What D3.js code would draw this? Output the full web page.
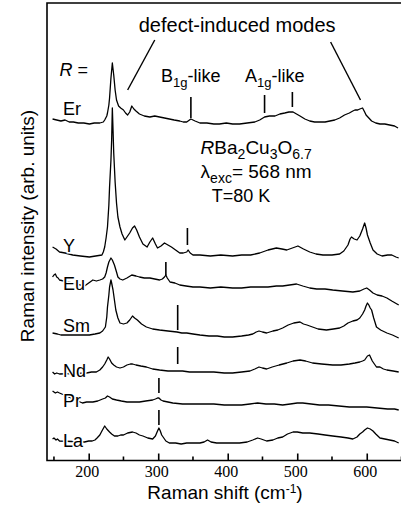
<!DOCTYPE html>
<html>
<head>
<meta charset="utf-8">
<script src="https://cdn.jsdelivr.net/npm/d3@7"></script>
<style>
  body { margin: 0; background: #fff; }
  svg { display: block; font-family: "Liberation Sans", Arial, sans-serif; }
</style>
</head>
<body>
<div id="chart"></div>
<script>
// spectra: [Raman shift (cm-1), intensity (arb. units, offset included)]
var erSpec = [[148,341],[154,340],[160,339],[166,340],[172,338],[178,338],[185,337],[193,337],[201,336],[208,337],[216,337],[221,338],[223,340],[226,344],[227,347],[229,355],[230,362],[232,382],[234,397],[236,385],[238,370],[240,360],[243,354],[246,352],[250,350],[253,347],[256,345],[259,348],[262,354],[265,351],[268,349],[273,346],[280,344],[288,343],[295,344],[302,343],[309,342],[316,341],[323,340],[331,339],[336,338],[341,338],[345,340],[347,341],[350,340],[353,339],[360,337],[370,337],[380,336],[388,336],[398,337],[407,336],[417,336],[428,337],[439,338],[446,340],[453,343],[460,344],[468,344],[475,346],[482,347],[488,348],[494,348],[499,346],[504,344],[511,341],[518,339],[525,338],[532,338],[540,338],[547,339],[554,340],[561,342],[568,345],[575,347],[580,349],[583,350],[587,350],[590,351],[594,352],[597,348],[599,345],[603,342],[607,339],[613,337],[619,336],[626,336],[633,335],[640,334],[645,332]];
var ySpec = [[148,213],[153,211],[158,208],[166,207],[177,205],[188,204],[201,203],[210,204],[219,205],[221,208],[223,213],[225,222],[227,233],[229,255],[230,273],[232,300],[233,320],[234,352],[235,330],[236,307],[238,278],[240,257],[242,243],[245,233],[248,226],[252,220],[255,223],[259,227],[263,232],[266,234],[269,230],[273,223],[278,216],[284,213],[288,218],[292,222],[296,216],[299,212],[304,214],[309,217],[314,215],[319,213],[325,210],[331,207],[336,207],[341,208],[343,210],[346,207],[350,205],[360,205],[375,204],[390,205],[407,204],[420,205],[433,205],[446,207],[458,210],[470,212],[478,211],[485,210],[493,212],[501,214],[509,211],[518,208],[527,206],[537,205],[550,205],[561,206],[567,209],[573,215],[576,221],[578,223],[582,221],[586,220],[590,224],[594,231],[597,237],[599,232],[601,225],[605,217],[609,210],[615,206],[622,204],[630,205],[636,205],[642,203],[646,202]];
var euSpec = [[148,183],[150,185],[152,186],[154,183],[156,182],[158,180],[194,174],[200,177],[206,180],[211,179],[216,180],[220,181],[223,183],[225,187],[227,193],[229,198],[232,202],[234,200],[237,195],[240,188],[242,183],[245,181],[249,180],[255,182],[262,185],[268,184],[273,183],[280,182],[288,182],[295,181],[302,180],[306,181],[309,183],[311,185],[313,182],[317,178],[324,177],[331,175],[340,174],[350,173],[360,173],[375,172],[390,173],[407,172],[420,172],[433,173],[446,173],[458,173],[470,174],[479,174],[489,175],[499,176],[508,174],[518,172],[528,171],[540,171],[551,170],[565,169],[580,168],[590,169],[596,171],[600,172],[604,170],[609,167],[615,165],[622,164],[629,162],[636,159],[641,157],[646,155]];
var smSpec = [[148,127],[155,126],[160,125],[168,125],[180,125],[190,125],[201,125],[209,126],[216,127],[220,129],[224,133],[226,143],[227,153],[229,165],[230,173],[232,180],[233,177],[235,170],[237,160],[239,150],[242,142],[245,137],[250,136],[255,137],[259,140],[263,144],[266,142],[270,140],[276,136],[283,133],[292,131],[302,130],[314,129],[327,128],[334,127],[341,127],[350,126],[360,125],[373,124],[385,124],[395,123],[407,123],[420,124],[430,125],[436,126],[441,128],[445,129],[450,128],[456,127],[465,129],[472,130],[479,132],[487,135],[495,137],[504,138],[509,136],[514,135],[522,133],[530,131],[542,130],[552,131],[561,132],[567,134],[573,137],[580,139],[586,140],[590,142],[594,146],[597,150],[599,154],[601,157],[603,155],[605,152],[607,150],[610,142],[614,133],[620,130],[629,127],[637,125],[646,122]];
var ndSpec = [[148,88],[151,86],[154,87],[158,86],[197,87],[204,88],[211,88],[216,90],[220,93],[223,96],[226,100],[228,103],[230,101],[233,97],[236,95],[240,93],[245,92],[250,93],[255,95],[260,96],[263,96],[268,95],[275,94],[283,93],[292,91],[302,90],[314,89],[327,89],[335,89],[345,88],[360,88],[380,88],[395,87],[407,87],[420,88],[432,89],[439,91],[445,93],[450,92],[456,91],[464,93],[474,95],[485,97],[494,99],[504,100],[512,99],[522,97],[535,96],[551,95],[563,95],[575,96],[583,97],[590,98],[594,99],[597,100],[601,104],[604,105],[606,102],[608,99],[611,96],[614,93],[619,93],[624,91],[629,90],[638,89],[646,88]];
var prSpec = [[148,69],[150,68],[152,67],[155,68],[158,67],[191,57],[197,58],[206,58],[213,59],[220,61],[224,62],[227,64],[230,63],[234,61],[240,60],[247,59],[255,58],[264,58],[273,58],[282,59],[292,60],[296,61],[299,62],[301,62],[304,60],[307,59],[314,58],[321,57],[335,56],[348,56],[360,56],[380,56],[395,55],[407,55],[420,55],[432,56],[443,57],[455,56],[467,56],[479,55],[490,56],[500,57],[508,57],[520,56],[532,55],[545,55],[560,54],[575,53],[588,53],[600,53],[615,52],[630,51],[640,51],[646,50]];
var laSpec = [[148,21],[150,22],[153,20],[155,21],[158,19],[194,18],[200,19],[205,19],[209,20],[212,22],[216,25],[219,29],[223,34],[226,31],[230,28],[233,26],[237,24],[242,24],[246,25],[250,25],[256,27],[263,28],[268,27],[273,25],[278,24],[285,22],[292,21],[296,24],[299,29],[301,32],[303,29],[305,25],[307,23],[311,19],[316,17],[325,17],[333,16],[341,17],[350,17],[360,17],[366,18],[371,20],[376,18],[384,17],[395,17],[407,17],[417,17],[428,18],[436,20],[443,22],[448,21],[456,19],[465,20],[472,22],[479,23],[486,26],[494,28],[500,28],[508,27],[518,27],[530,26],[540,25],[551,24],[563,23],[573,22],[580,21],[586,23],[590,26],[594,28],[597,30],[601,32],[605,31],[609,29],[613,26],[619,22],[626,21],[633,20],[640,19],[646,17]];

var spectra = [erSpec, ySpec, euSpec, smSpec, ndSpec, prSpec, laSpec];
var sampleNames = ["Er", "Y", "Eu", "Sm", "Nd", "Pr", "La"];
var labelPos = [[163,345],[163,208],[163,170],[163,128],[163,83],[163,53],[163,13]];

// short vertical markers: [shift, bottom, top]
var markers = [[347,342,363],[453,347,365],[493,353,368],[342,215,232],[311,185,198],[328,130,155],[328,96,113],[301,67,82],[301,35,50]];

// "defect-induced modes" pointer lines: [x1, y1, x2, y2]
var pointers = [[295,420,256,370],[548,418,591,360]];

var xTicks = [200, 300, 400, 500, 600];
var xMinor = [150, 250, 350, 450, 550, 650];

var W = 401, H = 518;
var margin = {top: 3, right: 0, bottom: 58, left: 47};

var svg = d3.select("#chart")
  .append("svg")
  .attr("width", W)
  .attr("height", H);

var x = d3.scaleLinear()
  .domain([140, 650])
  .range([margin.left, W + 0.5]);

var y = d3.scaleLinear()
  .domain([0, 457])
  .range([H - margin.bottom, margin.top]);

var line = d3.line()
  .x(function(d) { return x(d[0]); })
  .y(function(d) { return y(d[1]); });

// spectra
svg.selectAll(".spec")
  .data(spectra)
  .enter()
  .append("path")
  .attr("class", "spec")
  .attr("d", line)
  .attr("fill", "none")
  .attr("stroke", "#000")
  .attr("stroke-width", 1.3)
  .attr("stroke-linejoin", "round");

// sample labels with white halo so the trace stops at them
svg.selectAll(".lab")
  .data(sampleNames)
  .enter()
  .append("text")
  .attr("class", "lab")
  .attr("x", function(d, i) { return x(labelPos[i][0]); })
  .attr("y", function(d, i) { return y(labelPos[i][1]); })
  .attr("font-size", "18px")
  .attr("stroke", "#fff")
  .attr("stroke-width", 3)
  .attr("paint-order", "stroke")
  .attr("fill", "#000")
  .text(function(d) { return d; });

// markers
svg.selectAll(".mark")
  .data(markers)
  .enter()
  .append("line")
  .attr("class", "mark")
  .attr("x1", function(d) { return x(d[0]); })
  .attr("x2", function(d) { return x(d[0]); })
  .attr("y1", function(d) { return y(d[1]); })
  .attr("y2", function(d) { return y(d[2]); })
  .attr("stroke", "#000")
  .attr("stroke-width", 1.6);

svg.selectAll(".ptr")
  .data(pointers)
  .enter()
  .append("line")
  .attr("class", "ptr")
  .attr("x1", function(d) { return x(d[0]); })
  .attr("y1", function(d) { return y(d[1]); })
  .attr("x2", function(d) { return x(d[2]); })
  .attr("y2", function(d) { return y(d[3]); })
  .attr("stroke", "#000")
  .attr("stroke-width", 1.4);

// frame (left, top, bottom)
var y0 = y(0) + 0.5;
svg.append("path")
  .attr("d", "M" + (W + 2) + "," + y(457) + "H" + x(140) + "V" + y0 + "H" + (W + 2))
  .attr("fill", "none")
  .attr("stroke", "#000")
  .attr("stroke-width", 1.6);

// x axis ticks, pointing inwards
var xAxis = svg.append("g")
  .attr("transform", "translate(0," + y0 + ")")
  .call(d3.axisBottom(x).tickValues(xTicks).tickSize(-7).tickPadding(5));
xAxis.select(".domain").remove();
xAxis.selectAll(".tick line").attr("stroke-width", 1.6);
xAxis.selectAll(".tick text")
  .attr("font-family", "'Liberation Serif', 'Times New Roman', serif")
  .attr("font-size", "16px")
  .attr("dx", "-2");

svg.selectAll(".minor")
  .data(xMinor)
  .enter()
  .append("line")
  .attr("class", "minor")
  .attr("x1", function(d) { return x(d); })
  .attr("x2", function(d) { return x(d); })
  .attr("y1", y0)
  .attr("y2", y0 - 4)
  .attr("stroke", "#000")
  .attr("stroke-width", 1.6);

// axis titles
var xt = svg.append("text")
  .attr("x", 225)
  .attr("y", 499)
  .attr("text-anchor", "middle")
  .attr("font-size", "19px");
xt.append("tspan").text("Raman shift (cm");
xt.append("tspan").attr("font-size", "12px").attr("dy", -6).text("-1");
xt.append("tspan").attr("dy", 6).text(")");

svg.append("text")
  .attr("transform", "translate(34,226) rotate(-90)")
  .attr("text-anchor", "middle")
  .attr("font-size", "19px")
  .text("Raman intensity (arb. units)");

// annotations
svg.append("text")
  .attr("x", x(272)).attr("y", y(428))
  .attr("font-size", "20px")
  .text("defect-induced modes");

var rEq = svg.append("text")
  .attr("x", x(158)).attr("y", y(384))
  .attr("font-size", "18px");
rEq.append("tspan").attr("font-style", "italic").text("R");
rEq.append("tspan").text(" =");

function modeLabel(letter, sx, sy) {
  var t = svg.append("text")
    .attr("x", x(sx)).attr("y", y(sy))
    .attr("font-size", "18px");
  t.append("tspan").text(letter);
  t.append("tspan").attr("font-size", "13px").attr("dy", 5).text("1g");
  t.append("tspan").attr("dy", -5).text("-like");
}
modeLabel("B", 304, 378);
modeLabel("A", 425, 378);

var formula = svg.append("text")
  .attr("x", x(361)).attr("y", y(306))
  .attr("font-size", "19px");
formula.append("tspan").attr("font-style", "italic").text("R");
formula.append("tspan").text("Ba");
formula.append("tspan").attr("font-size", "14px").attr("dy", 5).text("2");
formula.append("tspan").attr("dy", -5).text("Cu");
formula.append("tspan").attr("font-size", "14px").attr("dy", 5).text("3");
formula.append("tspan").attr("dy", -5).text("O");
formula.append("tspan").attr("font-size", "14px").attr("dy", 5).text("6.7");

var lam = svg.append("text")
  .attr("x", x(361)).attr("y", y(282))
  .attr("font-size", "19px");
lam.append("tspan").text("\u03bb");
lam.append("tspan").attr("font-size", "14px").attr("dy", 5).text("exc");
lam.append("tspan").attr("dy", -5).text("= 568 nm");

svg.append("text")
  .attr("x", x(377)).attr("y", y(258))
  .attr("font-size", "18px")
  .text("T=80 K");
</script>
</body>
</html>
